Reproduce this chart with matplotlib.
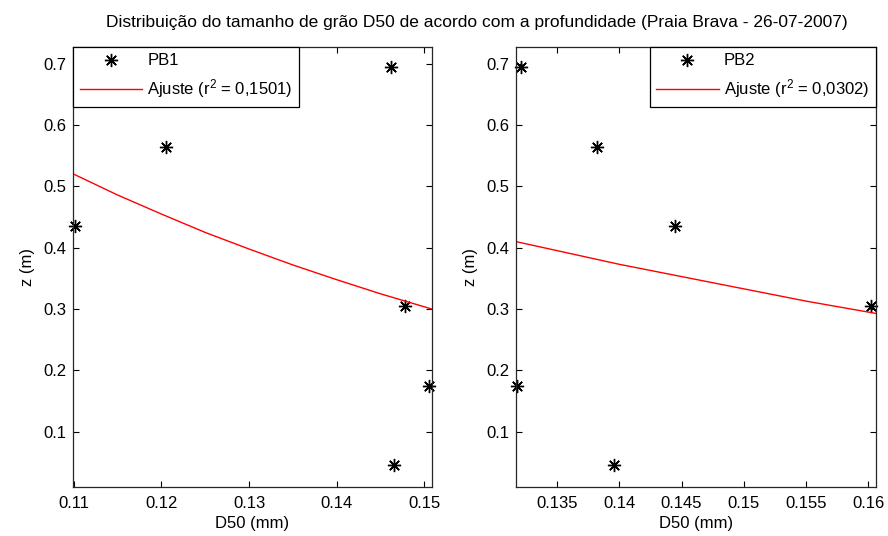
import numpy as np
import matplotlib.pyplot as plt

plt.rcParams['font.family'] = ['Liberation Sans', 'DejaVu Sans']
plt.rcParams['mathtext.fontset'] = 'custom'
plt.rcParams['mathtext.rm'] = 'Liberation Sans'
plt.rcParams['mathtext.it'] = 'Liberation Sans'
plt.rcParams['font.size'] = 12

# depths (m), shared by both profiles
z = [0.695, 0.565, 0.435, 0.305, 0.175, 0.045]

# PB1
d50_pb1 = [0.1462, 0.1205, 0.1101, 0.1478, 0.1505, 0.1466]
fit1_x = [0.1100, 0.1150, 0.1200, 0.1250, 0.1300, 0.1350, 0.1400, 0.1450, 0.1509]
fit1_z = [0.520, 0.486, 0.455, 0.425, 0.398, 0.372, 0.348, 0.325, 0.300]
label1 = 'Ajuste (r$^2$ = 0,1501)'

# PB2
d50_pb2 = [0.1321, 0.1382, 0.1445, 0.1602, 0.1318, 0.1396]
fit2_x = [0.1317, 0.1400, 0.1450, 0.1500, 0.1550, 0.1606]
fit2_z = [0.410, 0.373, 0.353, 0.333, 0.313, 0.293]
label2 = 'Ajuste (r$^2$ = 0,0302)'

fig = plt.figure(figsize=(8.88, 5.36), dpi=100)
ax1 = fig.add_axes([0.0822, 0.092, 0.4043, 0.8209])
ax2 = fig.add_axes([0.5807, 0.092, 0.4054, 0.8209])

star = (8, 2, 0)

panels = [
    (ax1, d50_pb1, fit1_x, fit1_z, 'PB1', label1, (0.1099, 0.1509),
     [0.11, 0.12, 0.13, 0.14, 0.15], ['0.11', '0.12', '0.13', '0.14', '0.15'], 'upper left'),
    (ax2, d50_pb2, fit2_x, fit2_z, 'PB2', label2, (0.13166, 0.1606),
     [0.135, 0.14, 0.145, 0.15, 0.155, 0.16],
     ['0.135', '0.14', '0.145', '0.15', '0.155', '0.16'], 'upper right'),
]

for ax, d50, fx, fz, name, flabel, xlim, xt, xtl, loc in panels:
    ax.plot(d50, z, linestyle='none', marker=star, markersize=9.5,
            markeredgewidth=1.0, color='black', label=name, clip_on=False)
    ax.plot(d50, z, linestyle='none', marker='o', markersize=2.2,
            color='black', clip_on=False)
    ax.plot(fx, fz, color='#ff0000', linewidth=1.0, label=flabel)
    ax.set_xlim(*xlim)
    ax.set_ylim(0.0103, 0.728)
    ax.set_xticks(xt)
    ax.set_xticklabels(xtl)
    ax.set_yticks([0.1, 0.2, 0.3, 0.4, 0.5, 0.6, 0.7])
    ax.set_yticklabels(['0.1', '0.2', '0.3', '0.4', '0.5', '0.6', '0.7'])
    ax.tick_params(direction='in', top=True, right=True, length=4,
                   width=0.8, labelsize=12, pad=4.5)
    ax.tick_params(axis='x', pad=7)
    for s in ax.spines.values():
        s.set_linewidth(0.9)
        s.set_color('#262626')
    ax.set_xlabel('D50 (mm)', labelpad=3)
    ax.set_ylabel('z (m)', labelpad=6)
    h, l = ax.get_legend_handles_labels()
    leg = ax.legend(h[:2], l[:2], loc=loc, borderaxespad=0, fancybox=False,
                    framealpha=1, edgecolor='black', handlelength=3.75,
                    labelspacing=0.55, borderpad=0.4, handletextpad=0.3,
                    fontsize=12)
    leg.get_frame().set_linewidth(0.9)

fig.text(0.537, 0.958, 'Distribuição do tamanho de grão D50 de acordo com a '
         'profundidade (Praia Brava - 26-07-2007)', ha='center', va='center',
         fontsize=12.5)

plt.savefig('out.png', dpi=100)
